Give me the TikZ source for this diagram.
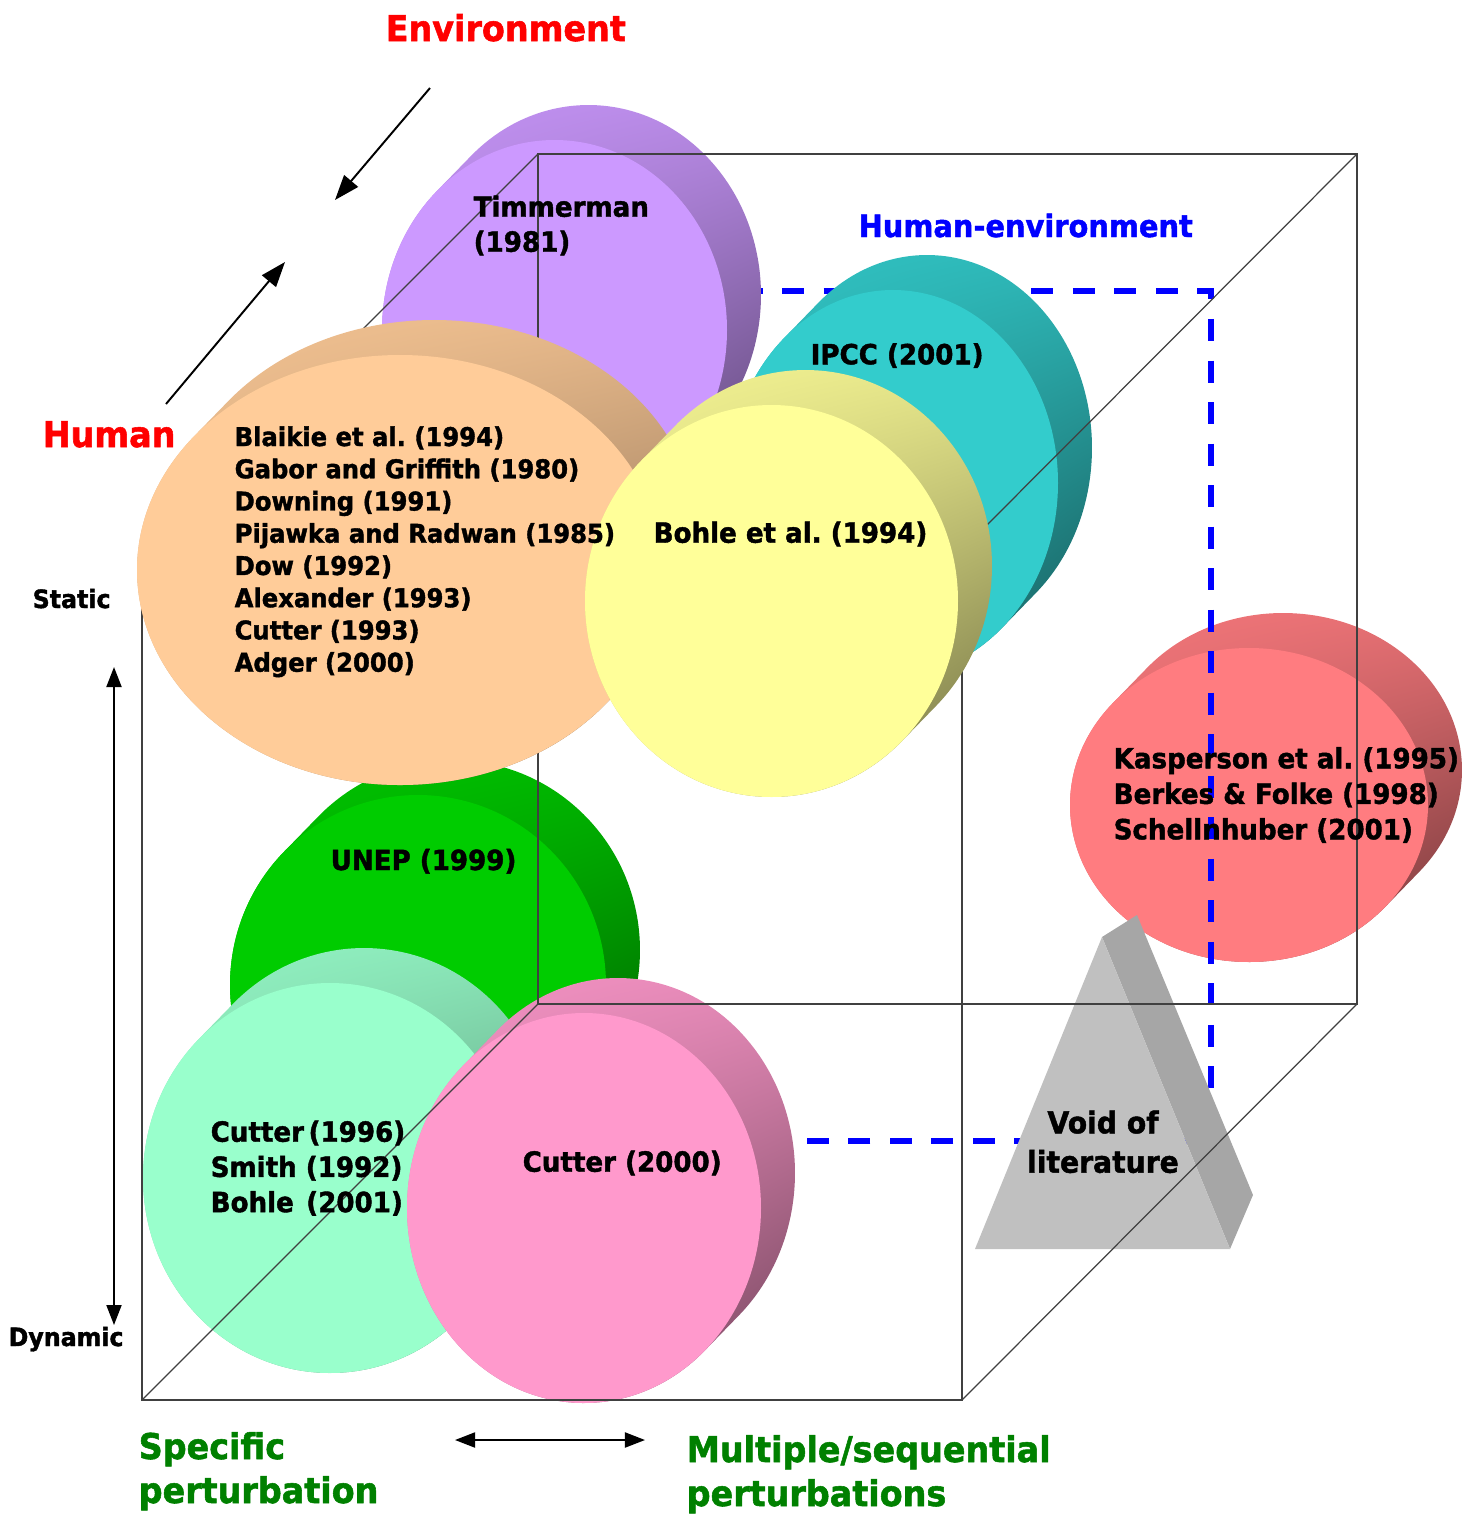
\documentclass[tikz,border=0pt]{standalone}
\usepackage{fontspec}
\setmainfont{DejaVu Sans}[FakeStretch=0.94, BoldFeatures={FakeBold=1.5}]
\frenchspacing
\usetikzlibrary{arrows.meta,calc,shadings}

\definecolor{lilac}{HTML}{CC99FF}
\definecolor{peach}{HTML}{FFCC99}
\definecolor{teal}{HTML}{33CCCC}
\definecolor{lemon}{HTML}{FFFF99}
\definecolor{grass}{HTML}{00CC00}
\definecolor{mint}{HTML}{99FFCC}
\definecolor{rose}{HTML}{FF99CC}
\definecolor{coral}{HTML}{FF7C80}
\definecolor{voidfront}{HTML}{C0C0C0}
\definecolor{voidside}{HTML}{A6A6A6}
\definecolor{axisred}{HTML}{FF0000}
\definecolor{axisblue}{HTML}{0000FF}
\definecolor{axisgreen}{HTML}{008000}

% A thick disc seen at an angle: shaded rim, then the flat front face.
% #1 name, #2 cx, #3 cy, #4 x radius, #5 y radius, #6 colour
\newcommand\slab[6]{%
  \pgfmathsetmacro\slabA{atan2(34*#5,35*#4)}%
  \shade[upper left=#6!96!black, upper right=#6!92!black,
         lower left=#6!85!black, lower right=#6!38!black]
    (#2,#3) ++(\slabA:#4 and #5) -- ++(34,-35)
    arc[start angle=\slabA, end angle=\slabA-180, x radius=#4, y radius=#5]
    -- ++(-34,35)
    arc[start angle=\slabA-180, end angle=\slabA-360, x radius=#4, y radius=#5]
    -- cycle;
  \fill[#6] (#2,#3) ellipse[x radius=#4, y radius=#5];
  \coordinate (#1) at (#2,#3);
}

\tikzset{
  ref/.style={inner sep=0pt, anchor=base west, font=\fontsize{7.9}{9.9}\selectfont\bfseries},
  reflist/.style={inner sep=0pt, anchor=base west, font=\fontsize{7.34}{9.2}\selectfont\bfseries},
  axislabel/.style={inner sep=0pt, anchor=base west, font=\fontsize{10.1}{12.8}\selectfont\bfseries},
  endlabel/.style={inner sep=0pt, anchor=base west, font=\fontsize{7.17}{9}\selectfont\bfseries},
  cubeedge/.style={draw=black!75, line width=0.35pt},
  planeedge/.style={draw=axisblue, line width=1.56pt, dash pattern=on 0.22cm off 0.195cm},
  arr/.style={line width=0.55pt, -{Triangle[length=0.25cm, width=0.18cm]}},
  twoway/.style={line width=0.55pt, {Triangle[length=0.2cm, width=0.15cm]}-{Triangle[length=0.2cm, width=0.15cm]}},
}

\begin{document}
\begin{tikzpicture}[x=0.01cm, y=-0.01cm]
\useasboundingbox (0,0) rectangle (1477,1514);

% discs behind the plane outline
\slab{kasperson}{1249}{805}{179}{157}{coral}

% human-environment plane
\coordinate (p1) at (450,291);
\coordinate (p2) at (1211,291);
\coordinate (p3) at (1211,1141);
\coordinate (p4) at (450,1141);
\draw[planeedge] (p1) -- (p2) -- (p3) -- (p4) -- cycle;

\slab{ipcc}{893}{483}{165}{193}{teal}
\slab{timmerman}{554.5}{330}{172.5}{190}{lilac}
\slab{unep}{418}{985}{188}{190}{grass}
\slab{cutter96}{330}{1178}{187}{195}{mint}
\slab{cutter00}{584}{1208}{177}{195}{rose}

% void of literature prism
\coordinate (va) at (1102,937);
\coordinate (vl) at (975,1249);
\coordinate (vr) at (1230,1249);
\coordinate (vb) at (1137,915);
\coordinate (vbr) at (1253,1195);
\fill[voidside] (va) -- (vb) -- (vbr) -- (vr) -- cycle;
\fill[voidfront] (va) -- (vl) -- (vr) -- cycle;

% cube
\coordinate (f1) at (142,550);
\coordinate (f2) at (962,550);
\coordinate (f3) at (962,1400);
\coordinate (f4) at (142,1400);
\coordinate (b1) at (538,154);
\coordinate (b2) at (1357,154);
\coordinate (b3) at (1357,1004);
\coordinate (b4) at (538,1004);
\draw[cubeedge] (f1) -- (f2) -- (f3) -- (f4) -- cycle;
\draw[cubeedge] (b1) -- (b2) -- (b3) -- (b4) -- cycle;
\draw[cubeedge] (f1) -- (b1);
\draw[cubeedge] (f2) -- (b2);
\draw[cubeedge] (f3) -- (b3);
\draw[cubeedge] (f4) -- (b4);

% discs in front of the cube
\slab{blaikie}{400}{570}{263}{215}{peach}
\slab{bohle94}{771.5}{601}{186.5}{196}{lemon}

% axis arrows
\coordinate (envtail) at (430,88);
\coordinate (envtip) at (335,200);
\coordinate (humtail) at (166,404);
\coordinate (humtip) at (285,262);
\coordinate (stattip) at (114,667);
\coordinate (dyntip) at (114,1325);
\coordinate (specend) at (455,1440);
\coordinate (multend) at (645,1440);
\draw[arr] (envtail) -- (envtip);
\draw[arr] (humtail) -- (humtip);
\draw[twoway] (stattip) -- (dyntip);
\draw[twoway] (specend) -- (multend);

% axis labels
\node[axislabel, text=axisred] (envlabel) at (385,41) {Environment};
\node[axislabel, text=axisred] (humlabel) at (42,447) {Human};
\node[inner sep=0pt, anchor=base west, font=\fontsize{8.73}{11}\selectfont\bfseries, text=axisblue]
  (helabel) at (858,237) {Human-environment};
\node[endlabel] (static) at (32,608) {Static};
\node[endlabel] (dynamic) at (8,1346) {Dynamic};
\node[axislabel, text=axisgreen] (spec1) at (138,1459) {Specific};
\node[axislabel, text=axisgreen] (spec2) at (138,1503) {perturbation};
\node[axislabel, text=axisgreen] (mult1) at (686,1462) {Multiple/sequential};
\node[axislabel, text=axisgreen] (mult2) at (686,1506) {perturbations};

% references
\node[ref] (tim1) at (473,216.7) {Timmerman};
\node[ref] (tim2) at (473,251.7) {(1981)};
\node[ref] (ipcctext) at (810,364.3) {IPCC (2001)};
\foreach \t [count=\i] in {Blaikie et al. (1994), Gabor and Griffith (1980),
    Downing (1991), Pijawka and Radwan (1985), Dow (1992),
    Alexander (1993), Cutter (1993), Adger (2000)}
  \node[reflist] (bl\i) at (234,{446+(\i-1)*32.24}) {\t};
\node[ref] (bohletext) at (653,542.7) {Bohle et al. (1994)};
\node[ref] (uneptext) at (330,870) {UNEP (1999)};
\node[ref] (ka1) at (1113,768.3) {Kasperson et al. (1995)};
\node[ref] (ka2) at (1113,803.8) {Berkes \& Folke (1998)};
\node[ref] (ka3) at (1113,839.3) {Schellnhuber (2001)};
\node[ref] (cu1) at (210,1141.7) {Cutter\,(1996)};
\node[ref] (cu2) at (210,1176.9) {Smith (1992)};
\node[ref] (cu3) at (210,1212.1) {Bohle\hspace{0.45em}(2001)};
\node[ref] (cu00) at (522,1171.7) {Cutter (2000)};
\node[inner sep=0pt, anchor=base, font=\fontsize{8.54}{11}\selectfont\bfseries]
  (void1) at (1103,1133.3) {Void of};
\node[inner sep=0pt, anchor=base, font=\fontsize{8.54}{11}\selectfont\bfseries]
  (void2) at (1103,1172.7) {literature};
\end{tikzpicture}
\end{document}
